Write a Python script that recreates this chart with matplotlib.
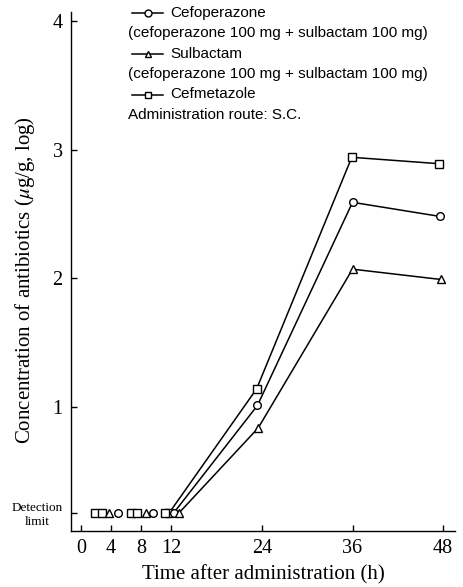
import matplotlib
matplotlib.use("Agg")
import matplotlib.pyplot as plt
from matplotlib.lines import Line2D

plt.rcParams["mathtext.fontset"] = "stix"

# ---- data ----
detection_limit = 0.174

# points at the detection limit (markers only)
cefop_dl_t = [4.9, 9.6]
sulb_dl_t = [3.8, 8.7]
cefm_dl_t = [1.9, 2.8, 6.7, 7.5, 11.1]

# connected curves (start at last detection-limit sample)
cefop_t = [12.3, 23.4, 36.0, 47.6]
cefop_v = [0.174, 1.01, 2.59, 2.48]
sulb_t = [13.0, 23.5, 36.0, 47.7]
sulb_v = [0.174, 0.835, 2.07, 1.99]
cefm_t = [11.7, 23.3, 35.9, 47.5]
cefm_v = [0.174, 1.14, 2.94, 2.89]

x_ticks = [0, 4, 8, 12, 24, 36, 48]
y_ticks = [1, 2, 3, 4]

fig = plt.figure(figsize=(4.64, 5.87), dpi=100)
ax = fig.add_axes([0.153, 0.0954, 0.828, 0.8842])

serif = "Liberation Serif"
sans = "Liberation Sans"

mk = dict(markersize=5.5, markerfacecolor="white", markeredgecolor="black",
          markeredgewidth=1.0, color="black", linewidth=1.1)

ax.plot(cefm_t, cefm_v, marker="s", **mk)
ax.plot(cefop_t, cefop_v, marker="o", **mk)
ax.plot(sulb_t, sulb_v, marker="^", **mk)
ax.plot(cefm_dl_t, [detection_limit] * len(cefm_dl_t), marker="s", linestyle="none", **mk)
ax.plot(cefop_dl_t, [detection_limit] * len(cefop_dl_t), marker="o", linestyle="none", **mk)
ax.plot(sulb_dl_t, [detection_limit] * len(sulb_dl_t), marker="^", linestyle="none", **mk)

ax.set_xlim(-1.3, 49.6)
ax.set_ylim(0.034, 4.07)

ax.spines["top"].set_visible(False)
ax.spines["right"].set_visible(False)
ax.spines["left"].set_linewidth(1.0)
ax.spines["bottom"].set_linewidth(1.0)

ax.set_xticks(x_ticks)
ax.set_xticklabels([str(t) for t in x_ticks], fontfamily=serif, fontsize=14.5)
ax.set_yticks([detection_limit] + y_ticks)
ylabels = ax.set_yticklabels(["Detection\nlimit"] + [str(t) for t in y_ticks],
                             fontfamily=serif, fontsize=14.5)
ylabels[0].set_fontsize(9.5)
ylabels[0].set_multialignment("center")
ax.tick_params(axis="both", direction="in", length=4, width=1.0, pad=6)

ax.set_xlabel("Time after administration (h)", fontfamily=serif, fontsize=15)
ax.xaxis.set_label_coords(0.5, -0.066)
ax.set_ylabel("Concentration of antibiotics ($\\mu$g/g, log)", fontfamily=serif,
              fontsize=15)
ax.yaxis.set_label_coords(-0.088, 0.484)

# ---- legend drawn manually in figure pixels ----
W, H = 464, 587
def fx(px):
    return px / W
def fy(py):
    return 1 - py / H

rows = [
    ("o", "Cefoperazone", 13),
    (None, "(cefoperazone 100 mg + sulbactam 100 mg)", 33.5),
    ("^", "Sulbactam", 54),
    (None, "(cefoperazone 100 mg + sulbactam 100 mg)", 74),
    ("s", "Cefmetazole", 94.5),
    (None, "Administration route: S.C.", 115),
]
for marker, label, py in rows:
    if marker is not None:
        fig.add_artist(Line2D([fx(132), fx(163)], [fy(py), fy(py)], color="black", linewidth=1.1))
        fig.add_artist(Line2D([fx(148)], [fy(py)], marker=marker, markersize=5,
                              markerfacecolor="white", markeredgecolor="black",
                              markeredgewidth=1.0))
        fig.text(fx(170), fy(py), label, fontfamily=sans, fontsize=11, va="center", ha="left")
    else:
        fig.text(fx(128), fy(py), label, fontfamily=sans, fontsize=11, va="center", ha="left")

fig.savefig("out.png", dpi=100)
